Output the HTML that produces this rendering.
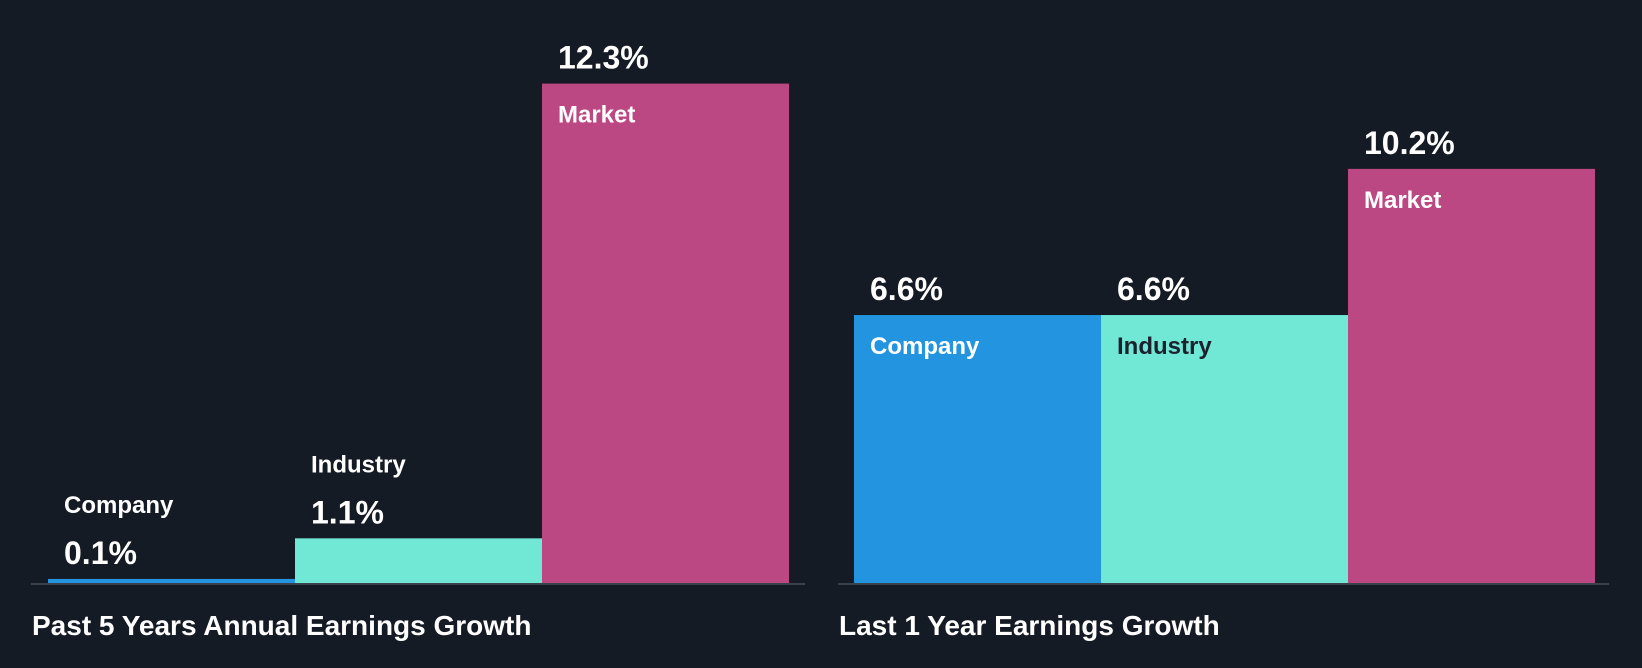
<!DOCTYPE html>
<html><head><meta charset="utf-8"><style>
html,body{margin:0;padding:0;background:#151b24;}
svg{display:block;font-family:"Liberation Sans",Arial,sans-serif;font-weight:bold;}
</style></head><body>
<svg id="c" width="1642" height="668">
<rect width="1642" height="668" fill="#151b24"/>
</svg>
<script>
const categories = ["Company","Industry","Market"];
const past5Values = [0.1, 1.1, 12.3];
const last1Values = [6.6, 6.6, 10.2];
const valueLabels5 = ["0.1%","1.1%","12.3%"];
const valueLabels1 = ["6.6%","6.6%","10.2%"];
const titles = ["Past 5 Years Annual Earnings Growth","Last 1 Year Earnings Growth"];

const colors = ["#2394df","#71e7d6","#bc4883"];
const innerText = ["#ffffff","#1b222d","#ffffff"];
const NS = "http://www.w3.org/2000/svg";
const svg = document.getElementById('c');
const base = 583, pxPer = 40.6, barW = 247;
function y(v){ return base - v*pxPer; }
function mk(tag, attrs, parent){
  const e = document.createElementNS(NS, tag);
  for (const k in attrs) e.setAttribute(k, attrs[k]);
  (parent||svg).appendChild(e); return e;
}
function panel(x0, axisX1, axisX2, values, labels, title, name){
  const g = mk('g', {});
  
  
  const ax = mk('line', {x1:axisX1, x2:axisX2, y1:base+1, y2:base+1, stroke:'#3a414a', 'stroke-width':2}, g);
  
  
  values.forEach((v,i)=>{
    const bx = x0 + i*barW, top = y(v), h = base - top;
    const r = mk('rect', {x:bx, y:top, width:barW, height:h, fill:colors[i]}, g);
    
    
    const vt = mk('text', {x:bx+16, y:top-15, fill:'#fff', 'font-size':32}, g);
    vt.textContent = labels[i];
    
    
    const inside = h > 60;
    const ct = mk('text', {x:bx+16, y: inside ? top+39 : top-66, fill: inside ? innerText[i] : '#fff', 'font-size':24}, g);
    ct.textContent = categories[i];
    
    
  });
  const t = mk('text', {x:axisX1+1, y:635, fill:'#fff', 'font-size':28}, g);
  t.textContent = title;
  
  
}
panel(48, 31, 805, past5Values, valueLabels5, titles[0], 'past-5-years-panel');
panel(854, 838, 1609, last1Values, valueLabels1, titles[1], 'last-1-year-panel');
</script>
</body></html>
